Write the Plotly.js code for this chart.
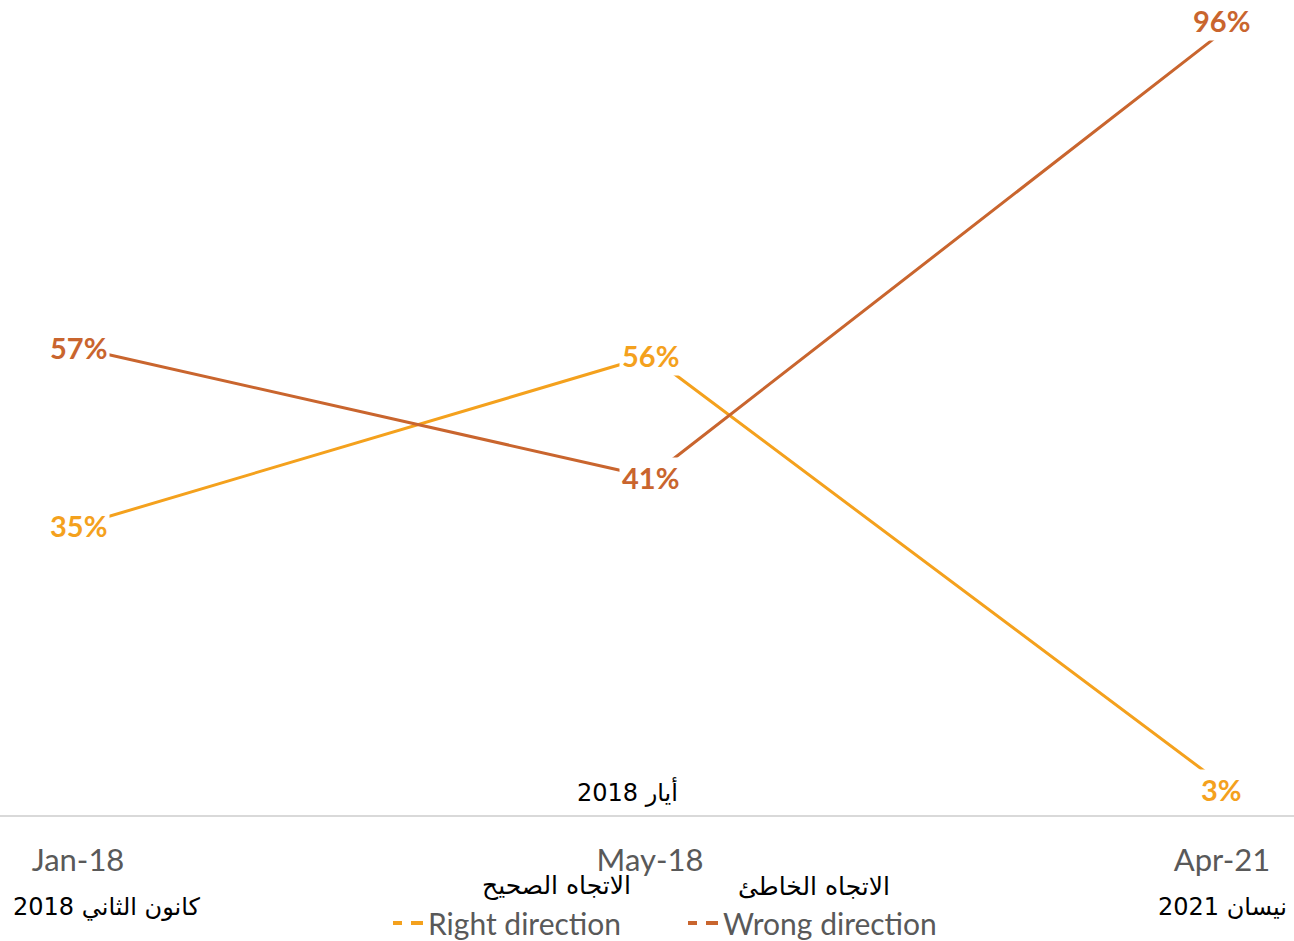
<!DOCTYPE html>
<html>
<head>
<meta charset="utf-8">
<script src="https://cdn.plot.ly/plotly-3.0.1.min.js"></script>
<style>html,body{margin:0;padding:0;background:#fff;}#chart{width:1294px;height:941px;}</style>
</head>
<body>
<div id="chart"></div>
<script>
const categories = ['Jan-18', 'May-18', 'Apr-21'];
const categoriesArabic = ['كانون الثاني 2018', 'أيار 2018', 'نيسان 2021'];
const rightDirection = [35, 56, 3];
const wrongDirection = [57, 41, 96];
const seriesNames = ['Right direction', 'Wrong direction'];
const seriesNamesArabic = ['الاتجاه الصحيح', 'الاتجاه الخاطئ'];

const ORANGE = '#F4A11D';
const BROWN = '#C9652E';
const GRAY = '#595959';

const series = [
  {name: seriesNames[0], values: rightDirection, color: ORANGE},
  {name: seriesNames[1], values: wrongDirection, color: BROWN}
];

const traces = [];
series.forEach(s => {
  traces.push({
    x: categories, y: s.values, type: 'scatter', mode: 'lines',
    line: {color: s.color, width: 3}, showlegend: false, hoverinfo: 'skip'
  });
});
series.forEach(s => {
  traces.push({
    x: [null], y: [null], type: 'scatter', mode: 'lines', name: s.name,
    line: {color: s.color, width: 4, dash: '9px,9px,13px,100px'}, showlegend: true
  });
});

// label nudges for points near the chart's top/bottom edges (style only)
function labelShift(v) { return v > 90 ? 12 : (v < 8 ? -5 : 0); }

const annotations = [];
series.forEach(s => {
  s.values.forEach((v, i) => {
    annotations.push({
      x: categories[i], y: v, xref: 'x', yref: 'y', text: v + '%',
      showarrow: false, bgcolor: '#ffffff', borderpad: 2, yshift: labelShift(v),
      font: {family: 'Lato, sans-serif', size: 29, color: s.color, weight: 'bold'}
    });
  });
});
const W = 1294, plotBottom = 815;
function py(pix) { return (plotBottom - pix) / plotBottom; }
const arabicFont = {family: 'DejaVu Sans, Noto Sans, sans-serif', size: 24, color: '#000'};
const arabicLegendFont = {family: 'DejaVu Sans, Noto Sans, sans-serif', size: 25, color: '#000'};
function paperText(text, px, pyy, font) {
  return {x: px / W, y: py(pyy), xref: 'paper', yref: 'paper', xanchor: 'center', yanchor: 'middle',
          text: text, showarrow: false, font: font};
}
annotations.push(paperText(categoriesArabic[0], 107, 907, arabicFont));
annotations.push(paperText(categoriesArabic[1], 627, 792, arabicFont));
annotations.push(paperText(categoriesArabic[2], 1222, 907, arabicFont));
annotations.push(paperText(seriesNamesArabic[0], 556, 886, arabicLegendFont));
annotations.push(paperText(seriesNamesArabic[1], 814, 886, arabicLegendFont));

const layout = {
  width: 1294, height: 941,
  margin: {l: 0, r: 0, t: 0, b: 126, autoexpand: false},
  paper_bgcolor: '#ffffff', plot_bgcolor: '#ffffff',
  showlegend: true,
  legend: {
    orientation: 'h', x: 388 / W, xanchor: 'left', y: py(923), yanchor: 'middle',
    font: {family: 'Lato, sans-serif', size: 30, color: GRAY},
    itemwidth: 30, entrywidth: 250, entrywidthmode: 'pixels', bgcolor: 'rgba(0,0,0,0)'
  },
  xaxis: {
    type: 'category', range: [-0.1364, 2.1259], showgrid: false, zeroline: false,
    showline: true, linecolor: '#d9d9d9', linewidth: 2, ticks: '',
    ticklabelstandoff: 17,
    tickfont: {family: 'Lato, sans-serif', size: 31, color: GRAY}, fixedrange: true
  },
  yaxis: {
    range: [-0.8, 100], visible: false, showgrid: false, zeroline: false, fixedrange: true
  },
  annotations: annotations
};

Plotly.newPlot('chart', traces, layout, {displayModeBar: false, staticPlot: true});
</script>
</body>
</html>
